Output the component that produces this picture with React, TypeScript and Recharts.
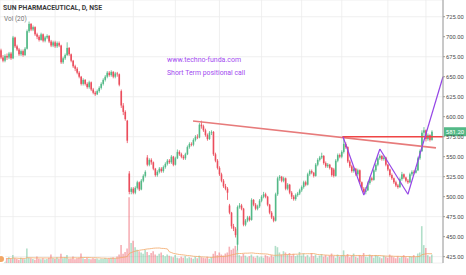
import React from 'react';
import {
    ComposedChart,
    Bar,
    Line,
    Cell,
    XAxis,
    YAxis,
    CartesianGrid,
    ReferenceLine,
} from 'recharts';

// daily candles, SUN PHARMACEUTICAL (NSE), Feb 2017 - Jan 2018
const opens = [
    683, 674, 670, 676, 674, 679, 673, 699, 688, 684,
    678, 682, 677, 685, 707, 716, 709, 712, 703, 700,
    696, 703, 695, 699, 701, 694, 689, 693, 688, 692,
    689, 668, 673, 677, 686, 678, 670, 663, 660, 655,
    650, 641, 646, 641, 637, 643, 634, 630, 628, 632,
    636, 641, 646, 650, 655, 652, 656, 650, 654, 653,
    632, 614, 606, 595, 529, 506, 510, 505, 511, 518,
    509, 520, 526, 549, 540, 546, 543, 535, 527, 531,
    535, 532, 537, 541, 545, 543, 550, 540, 548, 556,
    553, 550, 548, 553, 562, 566, 565, 571, 575, 574,
    590, 588, 583, 577, 572, 580, 581, 553, 545, 536,
    528, 520, 513, 510, 489, 480, 463, 460, 440, 487,
    489, 485, 465, 470, 474, 471, 496, 490, 485, 488,
    495, 500, 503, 500, 490, 480, 474, 470, 503, 523,
    525, 520, 523, 510, 515, 505, 500, 497, 502, 504,
    508, 512, 518, 515, 528, 532, 530, 526, 540, 546,
    549, 551, 542, 538, 540, 536, 534, 526, 545, 552,
    550, 556, 566, 562, 544, 538, 532, 535, 528, 533,
    518, 510, 506, 508, 517, 523, 521, 533, 540, 548,
    551, 547, 549, 540, 534, 527, 523, 518, 514, 512,
    522, 528, 524, 520, 518, 528, 531, 530, 533, 548,
    557, 580, 583, 572, 577, 571,
];
const highs = [
    685, 677, 678, 679, 681, 681, 701, 700, 690, 686,
    684, 684, 687, 709, 719, 717, 714, 713, 705, 702,
    705, 704, 701, 703, 702, 696, 695, 695, 694, 694,
    690, 675, 679, 693, 687, 679, 671, 665, 662, 657,
    651, 648, 647, 643, 645, 644, 636, 632, 634, 638,
    643, 648, 652, 657, 657, 658, 657, 656, 656, 654,
    634, 617, 608, 596, 532, 512, 512, 513, 520, 519,
    522, 528, 533, 552, 548, 548, 544, 536, 533, 537,
    537, 539, 543, 547, 547, 552, 551, 550, 559, 558,
    555, 552, 555, 564, 568, 568, 573, 577, 578, 592,
    595, 590, 585, 579, 582, 583, 582, 555, 547, 538,
    530, 522, 516, 512, 491, 481, 466, 462, 489, 492,
    491, 486, 472, 476, 476, 498, 497, 492, 490, 497,
    502, 506, 505, 501, 491, 482, 476, 505, 525, 527,
    526, 525, 524, 517, 516, 507, 502, 504, 506, 510,
    514, 520, 520, 530, 534, 534, 531, 542, 548, 551,
    555, 552, 544, 542, 541, 537, 536, 547, 554, 554,
    558, 575, 568, 563, 546, 540, 537, 536, 535, 534,
    519, 512, 512, 519, 525, 525, 535, 542, 550, 553,
    552, 551, 550, 541, 535, 529, 524, 520, 516, 524,
    531, 529, 525, 522, 530, 533, 533, 536, 550, 559,
    583, 587, 584, 579, 578, 583,
];
const lows = [
    672, 668, 668, 671, 672, 671, 672, 686, 682, 676,
    676, 675, 676, 684, 705, 707, 707, 701, 697, 694,
    695, 693, 693, 697, 692, 687, 687, 686, 686, 687,
    666, 666, 671, 676, 676, 668, 661, 657, 653, 648,
    639, 639, 639, 635, 635, 632, 628, 626, 627, 630,
    634, 639, 644, 648, 650, 650, 648, 648, 650, 638,
    611, 602, 595, 567, 503, 503, 503, 503, 509, 507,
    508, 518, 524, 538, 538, 540, 533, 525, 525, 529,
    530, 530, 535, 539, 541, 541, 538, 539, 547, 551,
    548, 546, 546, 552, 560, 563, 563, 569, 572, 573,
    585, 581, 575, 570, 571, 577, 551, 543, 534, 526,
    518, 511, 508, 496, 478, 460, 457, 449, 433, 485,
    483, 463, 463, 468, 469, 470, 488, 483, 483, 486,
    493, 498, 498, 488, 478, 472, 468, 469, 501, 520,
    518, 518, 508, 508, 503, 497, 495, 495, 500, 502,
    506, 510, 513, 514, 526, 528, 524, 525, 538, 544,
    547, 540, 536, 536, 534, 525, 524, 525, 543, 548,
    548, 554, 560, 542, 536, 530, 530, 526, 526, 516,
    508, 504, 503, 507, 515, 519, 520, 531, 538, 546,
    545, 545, 538, 532, 525, 521, 516, 512, 510, 511,
    520, 522, 518, 516, 517, 526, 528, 529, 532, 546,
    556, 576, 569, 570, 569, 570,
];
const closes = [
    674, 670, 676, 674, 679, 673, 699, 688, 684, 678,
    682, 677, 685, 707, 716, 709, 712, 703, 700, 696,
    703, 695, 699, 701, 694, 689, 693, 688, 692, 689,
    668, 673, 677, 686, 678, 670, 663, 660, 655, 650,
    641, 646, 641, 637, 643, 634, 630, 628, 632, 636,
    641, 646, 650, 655, 652, 656, 650, 654, 653, 640,
    614, 606, 597, 570, 506, 510, 505, 511, 518, 509,
    520, 526, 531, 540, 546, 543, 535, 527, 531, 535,
    532, 537, 541, 545, 543, 550, 540, 548, 556, 553,
    550, 548, 553, 562, 566, 565, 571, 575, 574, 590,
    588, 583, 577, 572, 580, 581, 553, 545, 536, 528,
    520, 513, 510, 505, 480, 463, 460, 452, 487, 489,
    485, 465, 470, 474, 471, 496, 490, 485, 488, 495,
    500, 503, 500, 490, 480, 474, 470, 503, 523, 525,
    520, 523, 510, 515, 505, 500, 497, 502, 504, 508,
    512, 518, 515, 528, 532, 530, 526, 540, 546, 549,
    551, 542, 538, 540, 536, 527, 526, 545, 552, 550,
    556, 566, 562, 544, 538, 532, 535, 528, 533, 518,
    510, 506, 508, 517, 523, 521, 533, 540, 548, 551,
    547, 549, 540, 534, 527, 523, 518, 514, 512, 522,
    528, 524, 520, 518, 528, 531, 530, 533, 548, 557,
    580, 583, 572, 577, 571, 581.2,
];
// volume, millions
const volumes = [
    1.5, 2.0, 1.2, 1.8, 2.2, 1.5, 3.0, 1.8, 1.5, 1.2,
    2.0, 1.6, 1.4, 5.5, 2.0, 1.8, 1.5, 1.2, 2.5, 1.6,
    1.4, 1.8, 1.3, 1.5, 2.0, 3.2, 1.8, 1.5, 2.2, 1.6,
    3.5, 1.8, 2.0, 3.0, 1.5, 1.6, 2.5, 1.4, 1.8, 2.0,
    3.6, 1.8, 1.5, 2.0, 1.6, 1.4, 1.8, 1.5, 1.7, 1.3,
    1.6, 1.5, 1.9, 1.6, 1.8, 2.0, 2.2, 1.8, 2.5, 3.2,
    6.8, 3.5, 4.2, 5.5, 25, 7.6, 8.5, 6.0, 5.0, 4.5,
    4.0, 3.5, 5.0, 4.2, 3.0, 3.8, 4.5, 3.2, 2.8, 3.5,
    4.0, 3.0, 2.6, 3.2, 2.8, 2.5, 2.2, 3.0, 2.0, 1.8,
    2.4, 2.0, 2.6, 1.8, 2.2, 2.0, 1.6, 2.4, 1.8, 2.8,
    2.2, 2.0, 1.8, 2.4, 1.6, 2.2, 3.5, 4.5, 3.0, 4.0,
    3.2, 2.8, 3.6, 4.0, 6.2, 5.0, 5.5, 6.5, 5.0, 3.0,
    2.5, 3.5, 2.8, 2.2, 2.6, 3.2, 2.4, 2.0, 2.8, 2.2,
    2.5, 2.0, 3.0, 2.6, 2.2, 3.0, 2.4, 6.5, 6.0, 4.0,
    3.2, 4.5, 4.0, 3.2, 3.8, 2.8, 3.5, 2.6, 3.0, 4.2,
    2.8, 3.6, 2.4, 3.0, 2.2, 3.8, 2.6, 3.2, 2.0, 2.8,
    3.4, 2.4, 3.0, 2.2, 2.8, 3.6, 2.6, 2.0, 3.2, 2.4,
    3.0, 4.8, 2.6, 3.4, 2.2, 2.8, 3.6, 2.4, 2.0, 3.0,
    2.6, 3.8, 2.4, 2.2, 3.2, 2.8, 2.0, 3.0, 2.6, 2.2,
    1.8, 2.8, 2.4, 2.0, 3.2, 2.6, 2.2, 1.8, 2.6, 2.0,
    2.4, 3.0, 2.2, 1.8, 2.6, 2.4, 3.0, 2.2, 3.6, 4.0,
    14, 6.8, 5.7, 3.0, 2.4, 3.2,
];

const xTicks = [6, 27, 47, 66, 87, 109, 130, 150, 170, 193, 212];
const xTickLabels = ['2', 'Apr', '4', 'Jun', 'Jul', 'Aug', 'Sep', 'Oct', 'Nov', 'Dec', '2018'];
const priceTicks = [425, 450, 475, 500, 525, 550, 575, 600, 625, 650, 675, 700, 725];

// drawn trendlines (bar index, price)
const resistanceLine = [{ x: 95.8, y: 594.6 }, { x: 217, y: 561 }];
const breakoutLine = [{ x: 170.3, y: 575 }, { x: 220.5, y: 575 }];
const patternPoints = [
    { x: 170.6, y: 575 },
    { x: 181, y: 502 },
    { x: 189, y: 559.6 },
    { x: 203, y: 503 },
    { x: 220.5, y: 650 },
];

const UP = '#53b987';
const DOWN = '#eb4d5c';
const FONT = 'Roboto, sans-serif';

// 20 period average of the volume bars (the "Vol (20)" study)
const volMA = volumes.map((_, i) => {
    const win = volumes.slice(Math.max(0, i - 19), i + 1);
    return win.reduce((a, b) => a + b, 0) / win.length;
});

const data = closes.map((c, i) => ({
    i,
    o: opens[i],
    h: highs[i],
    l: lows[i],
    c,
    v: volumes[i],
    ma: volMA[i],
}));

const Candle = (props: any) => {
    const { x, y, width, height, payload } = props;
    if (!payload) return null;
    const { o, h, l, c } = payload;
    const top = Math.min(y, y + height);
    const bottom = Math.max(y, y + height);
    const ppu = (bottom - top) / (h - l);
    const yO = top + (h - o) * ppu;
    const yC = top + (h - c) * ppu;
    const col = c >= o ? UP : DOWN;
    const cx = x + width / 2;
    return (
        <g>
            <line x1={cx} x2={cx} y1={top} y2={bottom} stroke={col} strokeWidth={0.8} />
            <rect
                x={cx - 0.8}
                width={1.6}
                y={Math.min(yO, yC)}
                height={Math.max(Math.abs(yC - yO), 0.8)}
                fill={col}
            />
        </g>
    );
};

const MonthTick = (props: any) => {
    const { x, y, payload } = props;
    return (
        <text x={x} y={y + 5} textAnchor="middle" fontSize={6} fill="#555" fontFamily={FONT}>
            {xTickLabels[xTicks.indexOf(payload.value)] ?? ''}
        </text>
    );
};

const PriceTag = (props: any) => {
    const { viewBox } = props;
    if (!viewBox) return null;
    const x = viewBox.x + viewBox.width;
    const y = viewBox.y;
    return (
        <g>
            <rect x={x + 1} y={y - 4.5} width={22} height={9} fill={UP} />
            <text x={x + 12} y={y + 2.2} textAnchor="middle" fontSize={6} fill="#fff" fontFamily={FONT}>
                {closes[closes.length - 1].toFixed(2)}
            </text>
        </g>
    );
};

export default function App() {
    return (
        <div style={{ position: 'relative', width: 466, height: 275, background: '#fff' }}>
            <style>{`body{margin:0}`}</style>
            <ComposedChart width={466} height={275} data={data} margin={{ top: 0, right: 0, left: 0, bottom: 0 }}>
                <CartesianGrid stroke="#ececec" strokeWidth={0.8} xAxisId="x" yAxisId="price" />
                <XAxis
                    xAxisId="x"
                    dataKey="i"
                    type="number"
                    domain={[-0.5, 220.5]}
                    ticks={xTicks}
                    height={12}
                    tickSize={0}
                    tickMargin={0}
                    tickLine={false}
                    stroke="#9a9a9a"
                    tick={<MonthTick />}
                    allowDataOverflow
                />
                <XAxis xAxisId="vx" dataKey="i" type="number" domain={[-0.5, 220.5]} hide />
                <YAxis
                    yAxisId="price"
                    orientation="right"
                    domain={[417.1, 745.9]}
                    ticks={priceTicks}
                    tickFormatter={(v: number) => v.toFixed(2)}
                    width={23}
                    tickSize={2}
                    tickMargin={1}
                    stroke="#9a9a9a"
                    tick={{ fontSize: 5.8, fill: '#4a4a4a', fontFamily: FONT, textAnchor: 'start' }}
                    allowDataOverflow
                />
                <YAxis yAxisId="vol" domain={[0, 100]} hide />
                <Bar xAxisId="vx" yAxisId="vol" dataKey="v" barSize={1.6} isAnimationActive={false}>
                    {data.map((d) => (
                        <Cell key={d.i} fill={d.c >= d.o ? UP : DOWN} fillOpacity={0.45} />
                    ))}
                </Bar>
                <Line
                    xAxisId="vx"
                    yAxisId="vol"
                    dataKey="ma"
                    stroke="#f2a766"
                    strokeWidth={0.8}
                    dot={false}
                    isAnimationActive={false}
                />
                <Bar
                    xAxisId="x"
                    yAxisId="price"
                    dataKey={(d: any) => [d.l, d.h]}
                    barSize={2}
                    shape={Candle}
                    isAnimationActive={false}
                />
                <ReferenceLine
                    xAxisId="x"
                    yAxisId="price"
                    segment={resistanceLine}
                    stroke="#e77b7b"
                    strokeWidth={1.6}
                />
                <ReferenceLine
                    xAxisId="x"
                    yAxisId="price"
                    segment={breakoutLine}
                    stroke="#ef4545"
                    strokeWidth={1.6}
                />
                {patternPoints.slice(1).map((p, k) => (
                    <ReferenceLine
                        key={k}
                        xAxisId="x"
                        yAxisId="price"
                        segment={[patternPoints[k], p]}
                        stroke="#9546e6"
                        strokeWidth={1.2}
                    />
                ))}
                <ReferenceLine
                    xAxisId="x"
                    yAxisId="price"
                    y={closes[closes.length - 1]}
                    stroke="none"
                    label={<PriceTag />}
                />
            </ComposedChart>
            <div style={{ position: 'absolute', left: 3, top: 5, fontSize: 6.8, fontWeight: 700, color: '#3a3a3a', fontFamily: FONT, lineHeight: 1 }}>
                SUN PHARMACEUTICAL, D, NSE
            </div>
            <div style={{ position: 'absolute', left: 4, top: 16, fontSize: 6.5, color: '#777', fontFamily: FONT, lineHeight: 1 }}>
                Vol (20)
            </div>
            <div style={{ position: 'absolute', left: 167, top: 57, fontSize: 7, color: '#a34cf0', fontFamily: FONT, lineHeight: 1 }}>
                www.techno-funda.com
            </div>
            <div style={{ position: 'absolute', left: 167, top: 70, fontSize: 6.9, color: '#a34cf0', fontFamily: FONT, lineHeight: 1 }}>
                Short Term positional call
            </div>
        </div>
    );
}
